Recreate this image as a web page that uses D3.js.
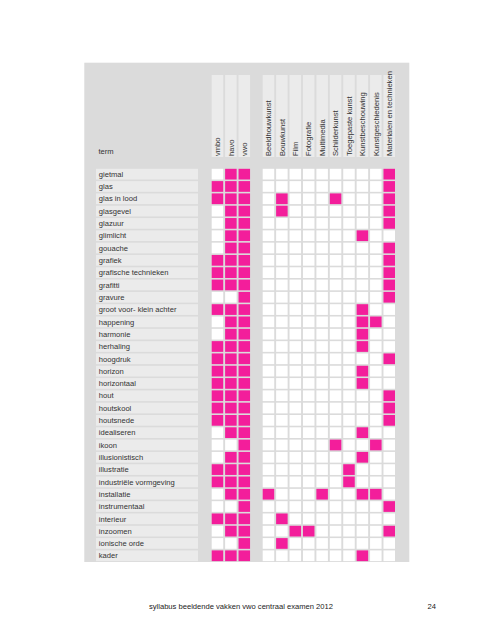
<!DOCTYPE html>
<html>
<head>
<meta charset="utf-8">
<script src="https://cdn.jsdelivr.net/npm/d3@7"></script>
<style>
  html, body { margin: 0; padding: 0; background: #ffffff; }
  svg { display: block; }
  text { font-family: "Liberation Sans", Arial, sans-serif; }
</style>
</head>
<body>
<svg id="chart" width="495" height="640"></svg>
<script>
// ---- Data ----
const terms = [
  "gietmal", "glas", "glas in lood", "glasgevel", "glazuur", "glimlicht", "gouache",
  "grafiek", "grafische technieken", "grafitti", "gravure", "groot voor- klein achter",
  "happening", "harmonie", "herhaling", "hoogdruk", "horizon", "horizontaal", "hout",
  "houtskool", "houtsnede", "idealiseren", "ikoon", "illusionistisch", "illustratie",
  "industriële vormgeving", "installatie", "instrumentaal", "interieur", "inzoomen",
  "ionische orde", "kader"
];
const levels = ["vmbo", "havo", "vwo"];
const disciplines = [
  "Beeldhouwkunst", "Bouwkunst", "Film", "Fotografie", "Multimedia", "Schilderkunst",
  "Toegepaste kunst", "Kunstbeschouwing", "Kunstgeschiedenis", "Materialen en technieken"
];
// 1 = term applies (vmbo, havo, vwo), one row per term
const levelValues = [
  [0,1,1],[1,1,1],[1,1,1],[0,1,1],[0,1,1],[0,1,1],[0,1,1],
  [1,1,1],[1,1,1],[1,1,1],[0,0,1],[1,1,1],
  [0,1,1],[0,1,1],[1,1,1],[1,1,1],[1,1,1],[1,1,1],[1,1,1],
  [1,1,1],[1,1,1],[0,1,1],[0,0,1],[0,1,1],[1,1,1],
  [1,1,1],[0,1,1],[0,0,1],[1,1,1],[0,1,1],
  [0,0,1],[1,1,1]
];
// 1 = term belongs to discipline (order as in `disciplines`)
const disciplineValues = [
  [0,0,0,0,0,0,0,0,0,1], // gietmal
  [0,0,0,0,0,0,0,0,0,1], // glas
  [0,1,0,0,0,1,0,0,0,1], // glas in lood
  [0,1,0,0,0,0,0,0,0,1], // glasgevel
  [0,0,0,0,0,0,0,0,0,1], // glazuur
  [0,0,0,0,0,0,0,1,0,0], // glimlicht
  [0,0,0,0,0,0,0,0,0,1], // gouache
  [0,0,0,0,0,0,0,0,0,1], // grafiek
  [0,0,0,0,0,0,0,0,0,1], // grafische technieken
  [0,0,0,0,0,0,0,0,0,1], // grafitti
  [0,0,0,0,0,0,0,0,0,1], // gravure
  [0,0,0,0,0,0,0,1,0,0], // groot voor- klein achter
  [0,0,0,0,0,0,0,1,1,0], // happening
  [0,0,0,0,0,0,0,1,0,0], // harmonie
  [0,0,0,0,0,0,0,1,0,0], // herhaling
  [0,0,0,0,0,0,0,0,0,1], // hoogdruk
  [0,0,0,0,0,0,0,1,0,0], // horizon
  [0,0,0,0,0,0,0,1,0,0], // horizontaal
  [0,0,0,0,0,0,0,0,0,1], // hout
  [0,0,0,0,0,0,0,0,0,1], // houtskool
  [0,0,0,0,0,0,0,0,0,1], // houtsnede
  [0,0,0,0,0,0,0,1,0,0], // idealiseren
  [0,0,0,0,0,1,0,0,1,0], // ikoon
  [0,0,0,0,0,0,0,1,0,0], // illusionistisch
  [0,0,0,0,0,0,1,0,0,0], // illustratie
  [0,0,0,0,0,0,1,0,0,0], // industriële vormgeving
  [1,0,0,0,1,0,0,1,1,0], // installatie
  [0,0,0,0,0,0,0,0,0,1], // instrumentaal
  [0,1,0,0,0,0,0,0,0,0], // interieur
  [0,0,1,1,0,0,0,0,0,1], // inzoomen
  [0,1,0,0,0,0,0,0,0,0], // ionische orde
  [0,0,0,0,0,0,0,1,0,0]  // kader
];
const headerLabel = "term";
const footerText = "syllabus beeldende vakken vwo centraal examen 2012";
const pageNumber = "24";

// ---- Layout ----
const PINK = "#f31e9b", PANEL = "#dbdbdb", STRIP = "#ebebeb", EMPTY = "#ffffff";
const colStep = 13.42, colGap = 1.9;
const rowStep = 12.31, rowGap = 1.6;
const rowTop = 168.8;

const svg = d3.select("#chart");

const xLevel = d3.scaleBand().domain(levels)
  .range([211.7, 211.7 + levels.length * colStep - colGap])
  .paddingInner(colGap / colStep).paddingOuter(0);
const xDisc = d3.scaleBand().domain(disciplines)
  .range([262.7, 262.7 + disciplines.length * colStep - colGap])
  .paddingInner(colGap / colStep).paddingOuter(0);
const y = d3.scaleBand().domain(terms)
  .range([rowTop, rowTop + terms.length * rowStep - rowGap])
  .paddingInner(rowGap / rowStep).paddingOuter(0);

// panel
svg.append("rect").attr("x", 84.3).attr("y", 62.7).attr("width", 325).attr("height", 499.3)
  .attr("fill", PANEL);

// header strips + rotated labels
const headerTop = 75, headerBottom = 157;
function headers(scale, names) {
  const g = svg.append("g");
  g.selectAll("rect").data(names).join("rect")
    .attr("x", d => scale(d)).attr("y", headerTop)
    .attr("width", scale.bandwidth()).attr("height", headerBottom - headerTop)
    .attr("fill", STRIP);
  g.selectAll("text").data(names).join("text")
    .attr("transform", d => `translate(${scale(d) + scale.bandwidth() / 2 + 2.7},${headerBottom - 1}) rotate(-90)`)
    .attr("font-size", 7.6).attr("fill", "#333")
    .text(d => d);
}
headers(xLevel, levels);
headers(xDisc, disciplines);

// "term" label
svg.append("text").attr("x", 98.5).attr("y", 153.5)
  .attr("font-size", 7.6).attr("fill", "#333").text(headerLabel);

// row label rects and text
const rows = svg.append("g").selectAll("g").data(terms).join("g");
rows.append("rect").attr("x", 96).attr("y", d => y(d))
  .attr("width", 102).attr("height", y.bandwidth()).attr("fill", STRIP);
rows.append("text").attr("x", 98.8).attr("y", d => y(d) + y.bandwidth() / 2 + 2.7)
  .attr("font-size", 7.6).attr("fill", "#333").text(d => d);

// cells
const levelCells = [];
terms.forEach((t, i) => levels.forEach((l, j) => levelCells.push({ t, c: l, v: levelValues[i][j] })));
svg.append("g").selectAll("rect").data(levelCells).join("rect")
  .attr("x", d => xLevel(d.c)).attr("y", d => y(d.t))
  .attr("width", xLevel.bandwidth()).attr("height", y.bandwidth())
  .attr("fill", d => d.v ? PINK : EMPTY);

const discCells = [];
terms.forEach((t, i) => disciplines.forEach((c, j) => discCells.push({ t, c, v: disciplineValues[i][j] })));
svg.append("g").selectAll("rect").data(discCells).join("rect")
  .attr("x", d => xDisc(d.c)).attr("y", d => y(d.t))
  .attr("width", xDisc.bandwidth()).attr("height", y.bandwidth())
  .attr("fill", d => d.v ? PINK : EMPTY);

// footer
svg.append("text").attr("x", 333).attr("y", 609).attr("text-anchor", "end")
  .attr("font-size", 7.6).attr("fill", "#222").text(footerText);
svg.append("text").attr("x", 436).attr("y", 609).attr("text-anchor", "end")
  .attr("font-size", 7.6).attr("fill", "#222").text(pageNumber);
</script>
</body>
</html>
